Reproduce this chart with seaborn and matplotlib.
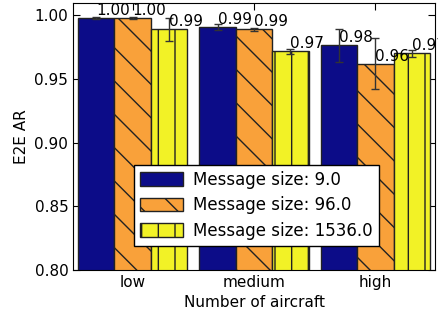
import numpy as np
import pandas as pd
import matplotlib
matplotlib.use("Agg")
import matplotlib.pyplot as plt
import seaborn as sns

categories = ["low", "medium", "high"]
sizes = ["9.0", "96.0", "1536.0"]
ar_9 = [0.9976, 0.9906, 0.9765]
ar_96 = [0.9976, 0.9890, 0.9620]
ar_1536 = [0.9890, 0.9718, 0.9700]
err_9 = [0.0010, 0.0025, 0.0130]
err_96 = [0.0010, 0.0012, 0.0200]
err_1536 = [0.0090, 0.0020, 0.0030]

colors = ["#0c0c88", "#f9a13a", "#f2f226"]
hatches = ["", "\\", "|"]

rows = []
for s, vals, errs in zip(sizes, [ar_9, ar_96, ar_1536], [err_9, err_96, err_1536]):
    for c, v, e in zip(categories, vals, errs):
        rows.append({"aircraft": c, "size": "Message size: " + s, "ar": v, "err": e})
df = pd.DataFrame(rows)

sns.set_style("ticks")
plt.rcParams.update({
    "xtick.direction": "in", "ytick.direction": "in",
    "xtick.top": True, "ytick.right": True,
    "hatch.linewidth": 1.0,
    "text.color": "black", "axes.labelcolor": "black",
    "xtick.color": "black", "ytick.color": "black",
})

fig = plt.figure(figsize=(4.38, 3.14), dpi=100)
ax = fig.add_axes([0.167, 0.140, 0.826, 0.850])

sns.barplot(data=df, x="aircraft", y="ar", hue="size", order=categories,
            palette=colors, width=0.9, gap=0, errorbar=None,
            edgecolor="#222222", linewidth=1.0, ax=ax, saturation=1)

bar_groups = list(ax.containers)
for i, cont in enumerate(bar_groups):
    sub = df[df["size"] == "Message size: " + sizes[i]]
    for bar, (_, r) in zip(cont, sub.iterrows()):
        bar.set_hatch(hatches[i])
        xc = bar.get_x() + bar.get_width() / 2
        ax.errorbar(xc, r["ar"], yerr=r["err"], color="#333333",
                    capsize=3, elinewidth=1, capthick=1)
        ax.text(xc, r["ar"], f"{r['ar']:.2f}", ha="left", va="bottom",
                fontsize=11, color="black")

ax.set_ylim(0.80, 1.0094)
ax.set_xlim(-0.49, 2.49)
ax.set_yticks([0.80, 0.85, 0.90, 0.95, 1.00])
ax.tick_params(labelsize=11, length=5, colors="black")
ax.set_xlabel("Number of aircraft", fontsize=11)
ax.set_ylabel("E2E AR", fontsize=11)
for sp in ax.spines.values():
    sp.set_visible(True)
    sp.set_color("black")

leg = ax.legend(loc="center", bbox_to_anchor=(0.507, 0.243), fontsize=12,
                frameon=True, fancybox=False, framealpha=1, edgecolor="black",
                handlelength=2.6, handleheight=0.9, borderpad=0.35,
                labelspacing=0.45, handletextpad=0.6)
for h, hatch in zip(leg.legend_handles, hatches):
    h.set_hatch(hatch)

fig.savefig("out.png", dpi=100)
